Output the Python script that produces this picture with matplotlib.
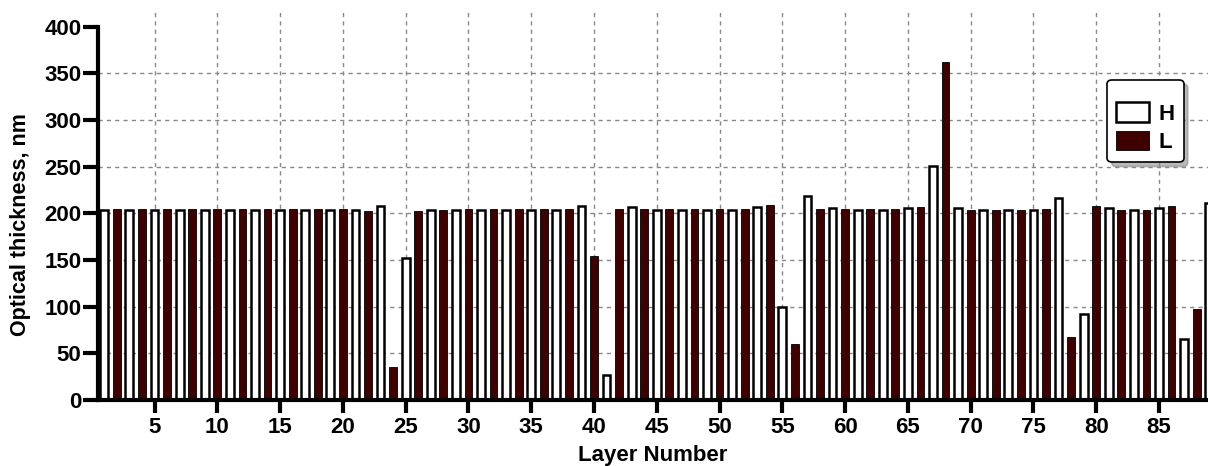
import numpy as np
import matplotlib
matplotlib.use("Agg")
import matplotlib.pyplot as plt

# =========================
# DATA
# =========================
# H layers sit on odd layer numbers, L layers on even ones
h_layers = list(range(1, 90, 2))
h_thickness = [204, 204, 204, 204, 204, 204, 204, 204, 204, 204, 204,
               208, 152, 204, 204, 204, 204, 204, 204, 208, 27, 207,
               204, 204, 204, 204, 207, 100, 219, 205.5, 204, 204, 206,
               251, 205.5, 204, 204, 204, 216.5, 92, 205.5, 204, 206,
               65.5, 211]

l_layers = list(range(2, 89, 2))
l_thickness = [205, 205, 205, 205, 205, 205, 205, 205, 205, 205, 203,
               35, 202.5, 203.5, 205, 205, 205, 205, 205, 154, 205,
               205, 205, 205, 205, 205, 208.5, 59.5, 205, 205, 205,
               205, 206.5, 362, 203.5, 203.5, 203.5, 205, 67, 208,
               203.5, 203.5, 207.5, 97]

x_ticks = list(range(5, 90, 5))
y_ticks = list(range(0, 401, 50))

DARK = "#3f0000"
FONT = "Liberation Sans"
FS = 16

plt.rcParams["font.family"] = [FONT, "DejaVu Sans"]
plt.rcParams["font.weight"] = "bold"

fig = plt.figure(figsize=(12.08, 4.66), dpi=100)
ax = fig.add_axes([98 / 1208, 66 / 466, 1110 / 1208, 390 / 466])

# grid first so the bars sit on top
for yv in y_ticks[1:-1]:
    ax.axhline(yv, color="#888888", ls=(0, (3, 3)), lw=1, zorder=0)
for xv in x_ticks:
    ax.axvline(xv, color="#888888", ls=(0, (3, 3)), lw=1, zorder=0)

bw = 0.62
ax.bar(h_layers, h_thickness, width=bw, color="white", edgecolor="black",
       linewidth=1.8, label="H", zorder=2)
ax.bar(l_layers, l_thickness, width=bw, color=DARK, edgecolor="black",
       linewidth=0.6, label="L", zorder=2)

ax.set_xlim(0.5, 88.9)
ax.set_ylim(0, 418)
ax.set_xticks(x_ticks)
ax.set_yticks(y_ticks)
ax.spines["left"].set_bounds(0, 400)
ax.spines["top"].set_visible(False)
ax.spines["right"].set_visible(False)
ax.spines["left"].set_linewidth(3)
ax.spines["bottom"].set_linewidth(3)
ax.tick_params(axis="both", direction="out", length=9, width=3,
               labelsize=FS, pad=3)
ax.tick_params(axis="y", length=11, pad=1)
for lab in ax.get_xticklabels() + ax.get_yticklabels():
    lab.set_fontweight("bold")

ax.set_xlabel("Layer Number", fontsize=FS, fontweight="bold", labelpad=5.5)
ax.set_ylabel("Optical thickness, nm", fontsize=15.5, fontweight="bold")
ax.yaxis.set_label_coords(-0.06, 0.45)

leg = ax.legend(loc="upper right", bbox_to_anchor=(0.978, 0.821),
                borderaxespad=0,
                fancybox=True, frameon=True, edgecolor="black",
                shadow={"color": "0.55", "alpha": 0.6, "ox": 3, "oy": -3},
                prop={"family": FONT, "weight": "bold", "size": FS},
                handlelength=1.45, handleheight=0.95, handletextpad=0.45,
                borderpad=0.4, labelspacing=0.3, title=" ",
                title_fontsize=6)
leg.get_frame().set_linewidth(1.2)

fig.savefig("out.png", dpi=100)
